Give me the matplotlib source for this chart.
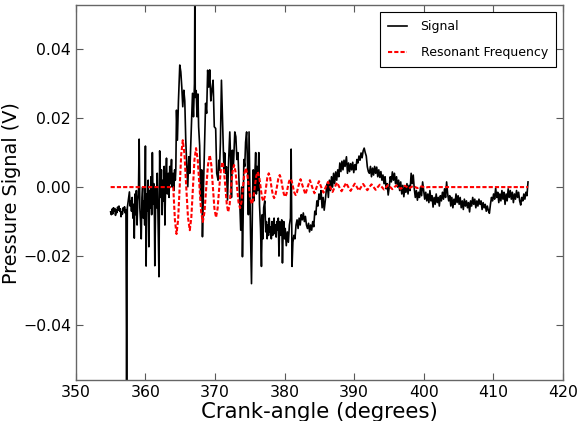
import matplotlib
matplotlib.use("Agg")
import matplotlib.pyplot as plt
from matplotlib.ticker import FuncFormatter

# ---------------- data ----------------
signal_angle = [
    355.00, 355.10, 355.20, 355.30, 355.40, 355.50, 355.60, 355.70, 355.80, 355.90,
    356.00, 356.10, 356.20, 356.30, 356.40, 356.50, 356.60, 356.70, 356.80, 356.90,
    357.00, 357.10, 357.20, 357.30, 357.40, 357.50, 357.60, 357.70, 357.80, 357.90,
    358.00, 358.10, 358.20, 358.30, 358.40, 358.50, 358.60, 358.70, 358.80, 358.90,
    359.00, 359.10, 359.20, 359.30, 359.40, 359.50, 359.60, 359.70, 359.80, 359.90,
    360.00, 360.10, 360.20, 360.30, 360.40, 360.50, 360.60, 360.70, 360.80, 360.90,
    361.00, 361.10, 361.20, 361.30, 361.35, 361.50, 361.60, 361.70, 361.80, 361.95,
    362.05, 362.20, 362.30, 362.40, 362.50, 362.60, 362.70, 362.80, 362.90, 363.03,
    363.15, 363.30, 363.40, 363.50, 363.60, 363.75, 363.85, 364.00, 364.10, 364.20,
    364.30, 364.37, 364.47, 364.60, 364.75, 364.94, 365.09, 365.23, 365.37, 365.52,
    365.66, 365.80, 365.95, 366.09, 366.24, 366.38, 366.57, 366.77, 366.91, 367.05,
    367.10, 367.17, 367.30, 367.42, 367.55, 367.65, 367.80, 367.95, 368.10, 368.20,
    368.35, 368.50, 368.65, 368.80, 368.95, 369.10, 369.25, 369.40, 369.55, 369.73,
    369.90, 370.10, 370.25, 370.45, 370.55, 370.65, 370.78, 370.93, 371.08, 371.20,
    371.30, 371.40, 371.50, 371.65, 371.80, 371.95, 372.13, 372.25, 372.37, 372.50,
    372.65, 372.85, 373.00, 373.15, 373.30, 373.45, 373.56, 373.70, 373.85, 373.95,
    374.04, 374.15, 374.28, 374.40, 374.55, 374.70, 374.80, 374.90, 375.00, 375.10,
    375.25, 375.40, 375.50, 375.60, 375.70, 375.85, 375.95, 376.05, 376.15, 376.30,
    376.40, 376.55, 376.68, 376.80, 376.90, 377.00, 377.16, 377.30, 377.40, 377.50,
    377.60, 377.70, 377.80, 377.90, 378.00, 378.10, 378.20, 378.30, 378.40, 378.50,
    378.60, 378.70, 378.80, 378.90, 379.00, 379.10, 379.20, 379.30, 379.45, 379.60,
    379.70, 379.80, 379.90, 380.00, 380.10, 380.25, 380.40, 380.55, 380.70, 380.85,
    380.95, 381.08, 381.20, 381.35, 381.50, 381.65, 381.80, 381.95, 382.10, 382.25,
    382.40, 382.55, 382.70, 382.85, 383.00, 383.15, 383.30, 383.45, 383.60, 383.75,
    383.90, 384.05, 384.20, 384.35, 384.50, 384.65, 384.80, 384.95, 385.10, 385.25,
    385.40, 385.55, 385.70, 385.85, 386.00, 386.15, 386.30, 386.45, 386.60, 386.75,
    386.90, 387.05, 387.20, 387.35, 387.50, 387.65, 387.80, 387.95, 388.10, 388.25,
    388.40, 388.55, 388.70, 388.90, 389.05, 389.20, 389.35, 389.50, 389.65, 389.80,
    389.95, 390.10, 390.25, 390.40, 390.55, 390.70, 390.85, 391.00, 391.15, 391.30,
    391.45, 391.60, 391.75, 391.90, 392.05, 392.20, 392.35, 392.50, 392.65, 392.80,
    392.95, 393.10, 393.25, 393.40, 393.55, 393.70, 393.85, 394.00, 394.15, 394.30,
    394.45, 394.60, 394.75, 394.90, 395.05, 395.20, 395.35, 395.50, 395.65, 395.80,
    395.95, 396.10, 396.25, 396.40, 396.55, 396.70, 396.85, 397.00, 397.15, 397.30,
    397.45, 397.60, 397.75, 397.90, 398.05, 398.20, 398.35, 398.50, 398.65, 398.80,
    398.95, 399.10, 399.25, 399.40, 399.55, 399.70, 399.85, 400.00, 400.15, 400.30,
    400.45, 400.60, 400.75, 400.90, 401.05, 401.20, 401.35, 401.50, 401.65, 401.80,
    401.95, 402.10, 402.25, 402.40, 402.55, 402.70, 402.85, 403.00, 403.15, 403.30,
    403.45, 403.60, 403.75, 403.90, 404.05, 404.20, 404.35, 404.50, 404.65, 404.80,
    404.95, 405.10, 405.25, 405.40, 405.55, 405.70, 405.85, 406.00, 406.15, 406.30,
    406.45, 406.60, 406.75, 406.90, 407.05, 407.20, 407.35, 407.50, 407.65, 407.80,
    407.95, 408.10, 408.25, 408.40, 408.55, 408.70, 408.85, 409.00, 409.15, 409.30,
    409.45, 409.60, 409.75, 409.90, 410.05, 410.20, 410.35, 410.50, 410.65, 410.80,
    410.95, 411.10, 411.25, 411.40, 411.55, 411.70, 411.85, 412.00, 412.15, 412.30,
    412.45, 412.60, 412.75, 412.90, 413.05, 413.20, 413.35, 413.50, 413.65, 413.80,
    413.95, 414.10, 414.25, 414.40, 414.55, 414.70, 414.85, 415.00,
]

signal_volts = [
    -0.0072, -0.0080, -0.0064, -0.0078, -0.0060, -0.0070, -0.0062, -0.0082, -0.0066, -0.0074,
    -0.0058, -0.0067, -0.0055, -0.0070, -0.0063, -0.0086, -0.0072, -0.0078, -0.0060, -0.0068,
    -0.0057, -0.0075, -0.0065, -0.0560, -0.0060, -0.0045, -0.0030, -0.0014, -0.0055, -0.0040,
    -0.0070, -0.0030, -0.0090, -0.0050, -0.0148, -0.0020, -0.0080, -0.0010, -0.0110, -0.0040,
    -0.0020, 0.0139, -0.0060, -0.0100, -0.0150, -0.0030, 0.0000, -0.0090, -0.0040, -0.0110,
    0.0119, -0.0229, -0.0020, -0.0070, 0.0020, -0.0173, -0.0010, -0.0060, 0.0030, -0.0080,
    0.0100, -0.0050, 0.0010, -0.0090, -0.0228, 0.0000, -0.0060, 0.0040, -0.0070, -0.0260,
    0.0105, -0.0030, 0.0050, -0.0080, 0.0020, -0.0040, 0.0060, -0.0110, 0.0010, 0.0084,
    -0.0020, 0.0040, -0.0030, 0.0060, 0.0010, 0.0080, 0.0000, 0.0040, -0.0010, 0.0050,
    0.0020, 0.0050, 0.0223, 0.0136, 0.0250, 0.0354, 0.0334, 0.0290, 0.0233, 0.0281,
    0.0250, 0.0136, 0.0059, 0.0001, 0.0088, 0.0040, 0.0157, 0.0272, 0.0204, 0.0300,
    0.0528, 0.0260, 0.0280, 0.0204, 0.0270, 0.0175, 0.0120, -0.0038, 0.0050, -0.0144,
    0.0000, 0.0117, 0.0243, 0.0214, 0.0339, 0.0290, 0.0340, 0.0250, 0.0280, 0.0310,
    0.0175, 0.0170, 0.0040, 0.0020, 0.0078, 0.0049, 0.0128, 0.0310, 0.0194, 0.0110,
    0.0049, 0.0099, 0.0040, 0.0059, -0.0038, 0.0070, 0.0160, 0.0080, -0.0030, 0.0107,
    0.0060, 0.0160, 0.0146, 0.0080, 0.0100, 0.0020, -0.0040, -0.0125, 0.0000, -0.0202,
    -0.0100, 0.0080, 0.0060, 0.0130, 0.0160, 0.0050, -0.0080, 0.0160, 0.0020, -0.0120,
    -0.0280, -0.0030, 0.0050, -0.0040, 0.0020, 0.0100, -0.0020, 0.0060, -0.0010, 0.0100,
    -0.0050, -0.0120, -0.0230, -0.0080, -0.0150, -0.0060, -0.0040, -0.0130, -0.0100, -0.0150,
    -0.0110, -0.0140, -0.0090, -0.0130, -0.0115, -0.0150, -0.0100, -0.0140, -0.0120, -0.0090,
    -0.0135, -0.0110, -0.0145, -0.0100, -0.0125, -0.0090, -0.0200, -0.0100, -0.0140, -0.0095,
    -0.0220, -0.0130, -0.0100, -0.0150, -0.0120, -0.0170, -0.0130, -0.0160, -0.0110, -0.0090,
    0.0110, -0.0230, -0.0160, -0.0140, -0.0150, -0.0110, -0.0095, -0.0120, -0.0090, -0.0110,
    -0.0080, -0.0095, -0.0075, -0.0100, -0.0085, -0.0110, -0.0120, -0.0105, -0.0130, -0.0110,
    -0.0125, -0.0100, -0.0115, -0.0070, -0.0080, -0.0040, -0.0055, -0.0020, -0.0035, -0.0010,
    -0.0060, -0.0030, -0.0067, -0.0040, -0.0010, 0.0010, -0.0030, 0.0020, -0.0010, 0.0030,
    0.0000, 0.0040, 0.0010, 0.0044, 0.0020, 0.0050, 0.0030, 0.0070, 0.0045, 0.0075,
    0.0050, 0.0078, 0.0060, 0.0088, 0.0040, 0.0070, 0.0045, 0.0068, 0.0050, 0.0072,
    0.0042, 0.0065, 0.0050, 0.0080, 0.0070, 0.0090, 0.0078, 0.0099, 0.0085, 0.0105,
    0.0113, 0.0100, 0.0090, 0.0059, 0.0045, 0.0040, 0.0060, 0.0030, 0.0055, 0.0035,
    0.0060, 0.0040, 0.0058, 0.0030, 0.0050, 0.0028, 0.0045, 0.0020, 0.0035, 0.0010,
    0.0030, -0.0005, 0.0010, -0.0023, 0.0000, 0.0030, 0.0015, 0.0044, 0.0020, 0.0040,
    0.0010, 0.0030, 0.0000, 0.0020, -0.0010, 0.0015, -0.0020, 0.0005, -0.0028, 0.0000,
    -0.0015, 0.0010, -0.0020, 0.0005, -0.0010, 0.0040, 0.0010, 0.0035, -0.0005, -0.0030,
    -0.0010, -0.0038, -0.0015, -0.0030, 0.0000, -0.0025, 0.0015, -0.0010, -0.0035, -0.0015,
    -0.0040, -0.0020, -0.0045, -0.0010, -0.0040, -0.0025, -0.0058, -0.0030, -0.0050, -0.0020,
    -0.0045, -0.0030, -0.0055, -0.0025, -0.0040, -0.0015, -0.0035, -0.0005, -0.0030, 0.0015,
    -0.0020, -0.0040, -0.0025, -0.0055, -0.0030, -0.0060, -0.0035, -0.0050, -0.0020, -0.0045,
    -0.0025, -0.0050, -0.0030, -0.0060, -0.0040, -0.0065, -0.0035, -0.0055, -0.0040, -0.0060,
    -0.0045, -0.0072, -0.0040, -0.0055, -0.0030, -0.0050, -0.0035, -0.0060, -0.0040, -0.0055,
    -0.0035, -0.0050, -0.0040, -0.0065, -0.0045, -0.0060, -0.0050, -0.0070, -0.0055, -0.0068,
    -0.0076, -0.0050, -0.0030, -0.0040, -0.0020, -0.0035, -0.0003, -0.0030, -0.0015, -0.0045,
    -0.0020, -0.0040, -0.0010, -0.0035, -0.0015, -0.0050, -0.0020, -0.0040, -0.0005, -0.0030,
    -0.0010, -0.0035, -0.0015, -0.0045, -0.0020, -0.0035, -0.0010, -0.0030, -0.0015, -0.0040,
    -0.0052, -0.0030, -0.0040, -0.0020, -0.0035, -0.0015, -0.0025, 0.0015,
]

resonant_angle = [
    355.00, 364.00, 364.24, 364.47, 364.70, 364.92, 365.15, 365.37, 365.62, 365.87,
    366.12, 366.38, 366.60, 366.83, 367.05, 367.28, 367.52, 367.77, 368.01, 368.25,
    368.50, 368.75, 369.00, 369.25, 369.47, 369.70, 369.92, 370.15, 370.38, 370.62,
    370.85, 371.08, 371.28, 371.49, 371.70, 371.90, 372.11, 372.32, 372.53, 372.74,
    372.95, 373.17, 373.38, 373.60, 373.81, 374.02, 374.22, 374.43, 374.65, 374.87,
    375.08, 375.30, 375.51, 375.72, 375.93, 376.15, 376.35, 376.55, 376.75, 376.95,
    377.15, 377.34, 377.53, 377.73, 377.92, 378.12, 378.31, 378.50, 378.70, 378.90,
    379.10, 379.31, 379.50, 379.70, 379.90, 380.10, 380.28, 380.47, 380.66, 380.85,
    381.04, 381.22, 381.41, 381.60, 381.78, 381.95, 382.30, 382.65, 383.00, 383.32,
    383.65, 383.97, 384.30, 384.62, 384.95, 385.27, 385.60, 385.92, 386.25, 386.57,
    386.90, 387.22, 387.55, 387.87, 388.20, 388.52, 388.85, 389.17, 389.50, 389.80,
    390.10, 390.40, 390.70, 391.00, 391.30, 391.60, 391.90, 392.20, 392.50, 392.80,
    393.10, 393.40, 393.70, 394.00, 394.30, 394.60, 394.90, 395.20, 395.50, 395.80,
    396.10, 396.40, 396.70, 397.00, 397.30, 397.60, 397.90, 398.20, 398.50, 398.80,
    399.10, 399.40, 399.70, 400.00, 400.30, 400.60, 415.00,
]

resonant_volts = [
    0.0, 0.0, -0.0095, -0.0136, -0.0095, 0.0, 0.0095, 0.0136, 0.0095, 0.0,
    -0.0088, -0.0125, -0.0088, 0.0, 0.0079, 0.0113, 0.0079, 0.0, -0.0071, -0.0101,
    -0.0071, 0.0, 0.0065, 0.0093, 0.0065, 0.0, -0.0062, -0.0088, -0.0062, 0.0,
    0.0051, 0.0073, 0.0051, 0.0, -0.0050, -0.0072, -0.0050, 0.0, 0.0045, 0.0064,
    0.0045, 0.0, -0.0043, -0.0061, -0.0043, 0.0, 0.0039, 0.0055, 0.0039, 0.0,
    -0.0034, -0.0049, -0.0034, 0.0, 0.0031, 0.0044, 0.0031, 0.0, -0.0029, -0.0041,
    -0.0029, 0.0, 0.0028, 0.0040, 0.0028, 0.0, -0.0022, -0.0032, -0.0022, 0.0,
    0.0024, 0.0035, 0.0024, 0.0, -0.0020, -0.0028, -0.0020, 0.0, 0.0017, 0.0024,
    0.0017, 0.0, -0.0016, -0.0023, -0.0016, 0.0, 0.0023, 0.0, -0.0021, 0.0,
    0.0020, 0.0, -0.0018, 0.0, 0.0017, 0.0, -0.0016, 0.0, 0.0015, 0.0,
    -0.0014, 0.0, 0.0013, 0.0, -0.0012, 0.0, 0.0012, 0.0, -0.0011, 0.0,
    0.0010, 0.0, -0.0010, 0.0, 0.0009, 0.0, -0.0009, 0.0, 0.0008, 0.0,
    -0.0008, 0.0, 0.0007, 0.0, -0.0007, 0.0, 0.0006, 0.0, -0.0006, 0.0,
    0.0005, 0.0, -0.0005, 0.0, 0.0004, 0.0, -0.0004, 0.0, 0.0003, 0.0,
    -0.0003, 0.0, 0.0002, 0.0, -0.0002, 0.0, 0.0,
]

x_ticks = [350, 360, 370, 380, 390, 400, 410, 420]
y_ticks = [-0.04, -0.02, 0.00, 0.02, 0.04]
series_labels = ["Signal", "Resonant Frequency"]
x_label = "Crank-angle (degrees)"
y_label = "Pressure Signal (V)"

# ---------------- figure ----------------
fig = plt.figure(figsize=(5.79, 4.21), dpi=100)
ax = fig.add_axes([0.131, 0.097, 0.841, 0.891])

ax.plot(signal_angle, signal_volts, color="black", lw=1.2, label=series_labels[0])
ax.plot(resonant_angle, resonant_volts, color="red", lw=1.5,
        linestyle=(0, (2, 1)), label=series_labels[1])

ax.set_xlim(350, 420)
ax.set_ylim(min(signal_volts), max(signal_volts))
ax.set_xticks(x_ticks)
ax.set_yticks(y_ticks)
ax.yaxis.set_major_formatter(FuncFormatter(lambda v, p: f"{v:.2f}".replace("-", "\u2212")))

ax.tick_params(direction="in", top=True, right=True, length=5, width=0.8,
               labelsize=11.3, color="0.35")
ax.tick_params(axis="x", pad=3.5)
ax.tick_params(axis="y", pad=3.5)
for s in ax.spines.values():
    s.set_color("0.4")
    s.set_linewidth(1.0)

ax.set_xlabel(x_label, fontsize=15.3)
ax.set_ylabel(y_label, fontsize=13.9)
ax.xaxis.set_label_coords(0.5, -0.058)
ax.yaxis.set_label_coords(-0.113, 0.5)

leg = ax.legend(loc="upper right", fontsize=9, fancybox=False, framealpha=1,
                edgecolor="black", handlelength=1.5, handletextpad=1.1,
                borderpad=0.65, labelspacing=1.05, borderaxespad=0.55)
leg.get_frame().set_linewidth(0.8)

fig.savefig("out.png", dpi=100)
